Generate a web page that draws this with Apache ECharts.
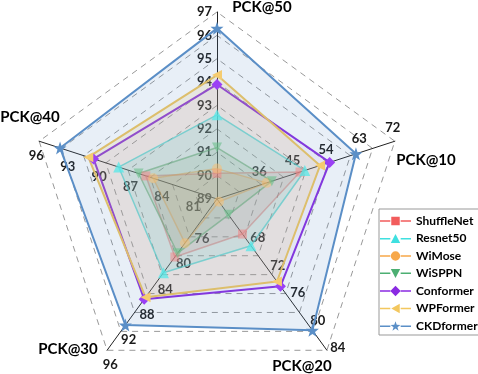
<!DOCTYPE html>
<html>
<head>
<meta charset="utf-8">
<script src="https://cdn.jsdelivr.net/npm/echarts@6/dist/echarts.min.js"></script>
<style>
  html, body { margin: 0; padding: 0; background: #fff; }
  #chart { width: 478px; height: 374px; }
</style>
</head>
<body>
<div id="chart"></div>
<script>
// Radar of PCK scores, every axis with its own scale
const FONT = "Lato, 'Open Sans', sans-serif"

const indicators = ['PCK@50', 'PCK@40', 'PCK@30', 'PCK@20', 'PCK@10']
const axisMin = [89, 79, 72, 62, 24]
const axisMax = [97, 96, 96, 84, 72]
const tickLabels = [
  [89, 90, 91, 92, 93, 94, 95, 96, 97],
  [81, 84, 87, 90, 93, 96],
  [76, 80, 84, 88, 92, 96],
  [68, 72, 76, 80, 84],
  [36, 45, 54, 63, 72]
]

const models = ['ShuffleNet', 'Resnet50', 'WiMose', 'WiSPPN', 'Conformer', 'WPFormer', 'CKDformer']
const shuffleNet = [90.1, 85.8, 81.2, 67.1, 46.4]
const resnet50 = [92.6, 88.4, 83.7, 68.8, 47.7]
const wiMose = [90.3, 85.1, 79.0, 62.4, 37.4]
const wiSPPN = [91.2, 86.5, 80.6, 64.3, 38.8]
const conformer = [93.9, 90.8, 87.9, 74.7, 54.4]
const wpFormer = [94.3, 91.3, 87.6, 74.0, 51.8]
const ckdFormer = [96.3, 94.0, 92.0, 81.1, 61.5]
const values = [shuffleNet, resnet50, wiMose, wiSPPN, conformer, wpFormer, ckdFormer]

const CENTER = [217, 199]
const RADIUS = 187

const STAR = 'path://M16.5,0.8L17.79,4.52L21.73,4.6L18.59,6.98L19.73,10.75L16.5,8.5L13.27,10.75L14.41,6.98L11.27,4.6L15.21,4.52Z'
const TRI_DOWN = 'path://M0,0L10,0L5,10Z'
const TRI_LEFT = 'path://M10,0L10,10L0,5Z'

// look of each model: line colour, marker colour, marker, size, width, stroke opacity, fill opacity
const looks = [
  { line: '#f25c5c', mark: '#f48080', symbol: 'rect', size: 9, width: 1.5, alpha: 0.5, area: 0.14 },
  { line: '#3fe0e0', mark: '#55e8e8', symbol: 'triangle', size: 11, width: 1.5, alpha: 0.75, area: 0.16 },
  { line: '#f7a84a', mark: '#f9c070', symbol: 'circle', size: 10, width: 1.5, alpha: 0.5, area: 0.14 },
  { line: '#4caf72', mark: '#6cc08c', symbol: TRI_DOWN, size: 10, width: 1.5, alpha: 0.6, area: 0.14 },
  { line: '#8a2be2', mark: '#9b40f5', symbol: 'diamond', size: 11, width: 2, alpha: 1, area: 0.05 },
  { line: '#f3c75e', mark: '#f5cc70', symbol: TRI_LEFT, size: 10, width: 2, alpha: 1, area: 0.16 },
  { line: '#5b8fc7', mark: '#5b8fc7', symbol: STAR, size: 13, width: 2, alpha: 1, area: 0.14 }
]

const legendLine = 'M0,5.2H11V6.8H0Z M22,5.2H33V6.8H22Z '
const legendMarks = [
  'M12,1.5H21V10.5H12Z',
  'M16.5,1L21.5,10.5H11.5Z',
  'M11.5,6A5,5 0 1 1 21.5,6A5,5 0 1 1 11.5,6Z',
  'M11.5,1.5H21.5L16.5,11Z',
  'M16.5,0.5L22,6L16.5,11.5L11,6Z',
  'M21,1V11L12,6Z',
  'M16.5,0.8L17.79,4.52L21.73,4.6L18.59,6.98L19.73,10.75L16.5,8.5L13.27,10.75L14.41,6.98L11.27,4.6L15.21,4.52Z'
]

const labelStyles = [
  { align: 'right', verticalAlign: 'middle', margin: 5 },
  { align: 'center', verticalAlign: 'top', margin: 9 },
  { align: 'center', verticalAlign: 'top', margin: 4, padding: [6, 0, 0, 0] },
  { align: 'left', verticalAlign: 'middle', margin: 4 },
  { align: 'center', verticalAlign: 'bottom', margin: 7 }
]

const gridRadar = {
  center: CENTER,
  radius: RADIUS,
  startAngle: 90,
  shape: 'polygon',
  splitNumber: 8,
  indicator: indicators.map((name, i) => ({ name, min: axisMin[i], max: axisMax[i] })),
  axisName: { show: false },
  axisLine: { lineStyle: { color: '#222', width: 1 } },
  axisTick: { show: false },
  axisLabel: { show: false },
  splitLine: { lineStyle: { color: '#999', width: 1, type: [6, 5] } },
  splitArea: { show: false }
}

// one extra radar per axis, only to write that axis's tick labels
const labelRadars = indicators.map((_, k) => ({
  center: CENTER,
  radius: RADIUS,
  startAngle: 90,
  shape: 'polygon',
  splitNumber: axisMax[k] - axisMin[k],
  indicator: indicators.map((name, i) =>
    i === k ? { name, min: axisMin[i], max: axisMax[i] } : { name, min: 0, max: 1 }),
  axisName: { show: false },
  axisLine: { show: false },
  axisTick: { show: false },
  splitLine: { show: false },
  splitArea: { show: false },
  axisLabel: {
    show: true,
    color: '#1a1a1a',
    fontFamily: FONT,
    fontWeight: 'bold',
    fontSize: 13,
    ...labelStyles[k],
    formatter: v => tickLabels[k].includes(Math.round(v * 1000) / 1000) ? String(Math.round(v)) : ''
  }
}))

const nameSpots = [[262, 7], [30, 117], [68, 349], [302, 366], [426, 160]]

const option = {
  backgroundColor: '#fff',
  animation: false,
  textStyle: { fontFamily: FONT },
  radar: [gridRadar, ...labelRadars],
  legend: {
    orient: 'vertical',
    left: 379,
    top: 209,
    padding: [6, 5, 3, 1],
    itemWidth: 31,
    itemHeight: 12,
    itemGap: 5.5,
    borderColor: '#999',
    borderWidth: 1,
    textStyle: { fontFamily: FONT, fontWeight: 'bold', fontSize: 12, color: '#000', lineHeight: 12 },
    data: models.map((name, i) => ({
      name,
      icon: 'path://' + legendLine + legendMarks[i],
      itemStyle: { color: looks[i].line, borderWidth: 0, opacity: 1 }
    }))
  },
  graphic: indicators.map((name, i) => ({
    type: 'text',
    x: nameSpots[i][0],
    y: nameSpots[i][1],
    style: {
      text: name,
      font: 'bold 15px ' + FONT,
      fill: '#000',
      align: 'center',
      verticalAlign: 'middle'
    }
  })),
  series: models.map((name, i) => ({
    type: 'radar',
    name,
    radarIndex: 0,
    symbol: looks[i].symbol,
    symbolSize: looks[i].size,
    itemStyle: { color: looks[i].mark, opacity: looks[i].alpha },
    lineStyle: { color: looks[i].line, width: looks[i].width, opacity: looks[i].alpha },
    areaStyle: { color: looks[i].line, opacity: looks[i].area },
    data: [{ name, value: values[i] }]
  }))
}

const chart = echarts.init(document.getElementById('chart'))
chart.setOption(option)
</script>
</body>
</html>
